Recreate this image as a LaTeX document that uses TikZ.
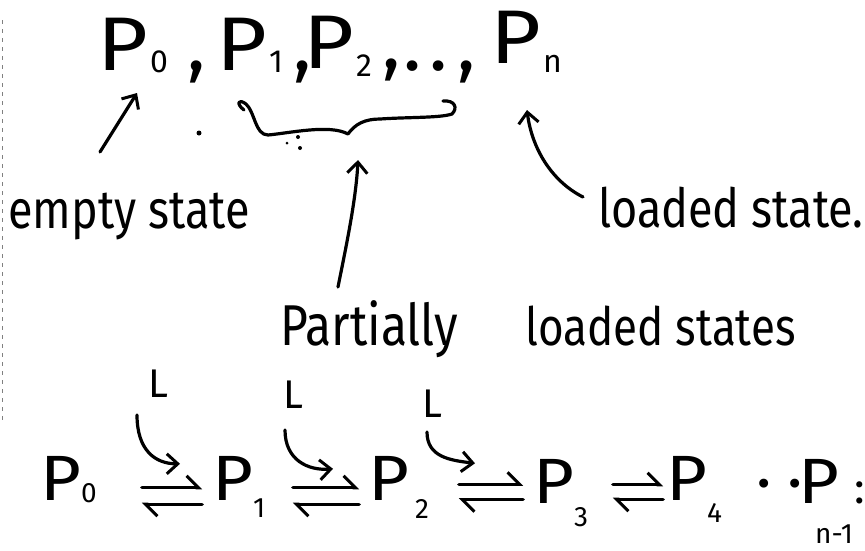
\documentclass[tikz,border=0pt]{standalone}
\usepackage{fontspec}
\setmainfont{Fira Sans}
\usetikzlibrary{arrows.meta,calc}
\newcommand\tsub[2][5pt]{\raisebox{-#1}{\fontsize{32}{32}\selectfont #2}}
\newcommand\bsub[2][2pt]{\raisebox{-#1}{\fontsize{28}{28}\selectfont #2}}
\newcommand\tallt[1]{\scalebox{1}[1.2]{#1}}
\newcommand\wideP{\scalebox{1.15}[1]{P}}
\newcommand\midwP{\scalebox{1.1}[1]{P}}
\begin{document}
\begin{tikzpicture}[x=1pt,y=-1pt,
  ink/.style={line width=3.2pt, line cap=round, line join=round},
  tipshape/.tip={Straight Barb[length=11pt,width=20pt,line width=3pt]},
  arr/.style={ink, -{tipshape}},
  harp/.style={ink, -{Straight Barb[harpoon,length=12pt,width=24pt,line width=3pt]}},
  bigP/.style={font=\fontsize{76}{80}\selectfont, inner sep=0pt, anchor=base west},
  midP/.style={font=\fontsize{64}{70}\selectfont, inner sep=0pt, anchor=base west},
  lbl/.style={font=\fontsize{45}{50}\selectfont, inner sep=0pt, anchor=base west},
  Lsty/.style={font=\fontsize{40}{44}\selectfont, inner sep=0pt, anchor=base west},
  hbox/.style={minimum height=16pt, inner sep=0pt},
  speck/.style={fill=black},
]
\useasboundingbox (0,0) rectangle (865,550);

% top row
\node[bigP] (t0) at (97,70) {\makebox[53pt][l]{\wideP}\makebox[37pt][l]{\tsub[2pt]{0}},};
\node[bigP] (t1) at (216,70) {\makebox[53pt][l]{\wideP}\makebox[24pt][l]{\tsub[2pt]{1}},};
\node[bigP] (t2) at (303,68) {\makebox[53pt][l]{\wideP}\makebox[26pt][l]{\tsub[8pt]{2}},};
\node[bigP] (td) at (403,70) {\makebox[26pt][l]{.}\makebox[28pt][l]{.},};
\node[bigP] (tn) at (490,63) {\makebox[53pt][l]{\wideP}\tsub[9pt]{n}};

% labels
\node[lbl] (empty) at (8,228) {\tallt{empty state}};
\node[lbl] (loaded) at (598,227) {\tallt{loaded state.}};
\node[lbl] (part) at (280,345) {\tallt{{\fontsize{48}{54}\selectfont Partially} \hspace{56pt}{\fontsize{44}{48}\selectfont loaded states}}};

% brace under P1, P2, ...
\draw[ink] (244,110) .. controls (236,104) and (238,98) .. (246,104)
  .. controls (255,112) and (255,135) .. (268,135)
  .. controls (290,133) and (330,124) .. (348,134)
  .. controls (355,124) and (365,119) .. (380,119)
  .. controls (410,117) and (440,118) .. (452,114)
  .. controls (458,108) and (455,100) .. (443,101);
\coordinate (bracetip) at (358,160);

% specks
\fill[speck] (199,133) circle (2.5pt);
\fill[speck] (287,143) circle (1.5pt);
\fill[speck] (298,137) circle (2pt);
\fill[speck] (300,148) circle (2pt);

% label arrows
\draw[arr] ($(empty.base west)+(92,-76)$) -- ($(t0.base west)+(40,23)$);
\draw[arr] ($(loaded.base west)+(-15,-30)$) .. controls +(-30,-15) and +(5,40) .. ($(tn.base west)+(37,47)$);
\draw[arr] ($(part.base west)+(58,-58)$) .. controls +(8,-40) and +(-2,40) .. (bracetip);

% bottom row
\node[midP] (b0) at (40,500) {\midwP\bsub{0}};
\node[midP] (b1) at (212,500) {\midwP\bsub[17pt]{1}};
\node[midP] (b2) at (368,500) {\midwP\kern6pt\bsub[18pt]{2}};
\node[midP] (b3) at (533,503) {\midwP\bsub[23pt]{3}};
\node[midP] (b4) at (666,500) {\midwP\bsub[22pt]{4}};
\node[midP] (bd) at (756,503) {·\hspace{16pt}·};
\node[midP] (bn) at (798,503) {\midwP\kern-24pt\bsub[40pt]{n-1}};
\node[midP, font=\fontsize{44}{48}\selectfont] (bc) at (854,503) {:};

% equilibrium harpoons
\node[hbox, minimum width=60pt] (H1) at (172,496) {};
\node[hbox, minimum width=66pt] (H2) at (326,496) {};
\node[hbox, minimum width=64pt, minimum height=15pt] (H3) at (491,492) {};
\node[hbox, minimum width=50pt, minimum height=14pt] (H4) at (638,492) {};
\foreach \h in {H1,H2,H3,H4}{
  \draw[harp] (\h.north west) -- (\h.north east);
  \draw[harp] (\h.south east) -- (\h.south west);
}

% L labels with hooked arrows
\node[Lsty] (L1) at (148,397) {L};
\node[Lsty] (L2) at (283,408) {L};
\node[Lsty] (L3) at (422,417) {L};
\draw[arr] ($(L1.base west)+(-11,18)$) .. controls +(0,35) and +(-25,0) .. ($(H1.north)+(8,-24)$);
\draw[arr] ($(L2.base west)+(2,22)$) .. controls +(0,30) and +(-25,2) .. ($(H2.north)+(7,-19)$);
\draw[arr] ($(L3.base west)+(5,15)$) .. controls +(0,25) and +(-25,-3) .. ($(H3.north)+(-16,-21)$);

% scan edge
\draw[gray, line width=0.8pt, dash pattern=on 4pt off 5pt] (2,20) -- (2,420);
\end{tikzpicture}
\end{document}
